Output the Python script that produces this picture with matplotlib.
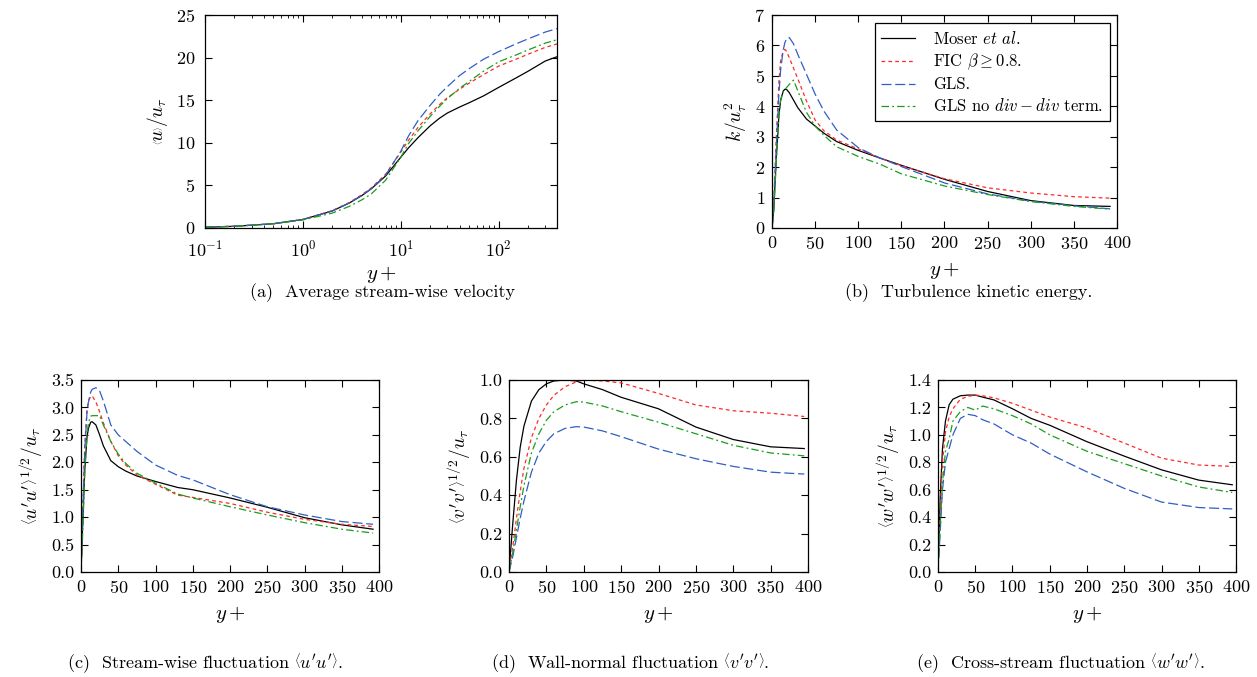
import numpy as np
import matplotlib
matplotlib.use("Agg")
import matplotlib.pyplot as plt
from matplotlib.ticker import LogLocator, NullFormatter

plt.rcParams["font.family"] = "serif"
plt.rcParams["font.serif"] = ["cmr10"]
plt.rcParams["mathtext.fontset"] = "cm"
plt.rcParams["axes.formatter.use_mathtext"] = True
plt.rcParams["font.size"] = 13

# (a) vitesse moyenne, echelle log
yp_u = [0.1, 0.2, 0.5, 1, 2, 3, 4, 5, 7, 10, 12, 15, 20, 25, 30, 40, 50, 70, 100, 150, 200, 300, 395]
u_moser = [0.1, 0.2, 0.5, 1.0, 2.0, 2.95, 3.8, 4.6, 6.1, 8.3, 9.4, 10.6, 12.0, 12.9, 13.5, 14.2, 14.7, 15.5, 16.5, 17.6, 18.4, 19.6, 20.1]
u_fic = [0.1, 0.2, 0.5, 1.0, 2.05, 3.0, 3.9, 4.7, 6.3, 8.9, 10.3, 11.8, 13.4, 14.5, 15.3, 16.3, 17.0, 18.0, 19.0, 19.8, 20.4, 21.2, 21.6]
u_gls = [0.1, 0.2, 0.5, 1.0, 2.0, 2.95, 3.85, 4.6, 6.2, 9.0, 10.8, 12.6, 14.4, 15.7, 16.6, 17.9, 18.7, 19.8, 20.7, 21.6, 22.2, 23.0, 23.4]
u_gls2 = [0.1, 0.2, 0.5, 0.95, 1.75, 2.55, 3.3, 4.0, 5.6, 8.3, 9.9, 11.4, 13.1, 14.3, 15.2, 16.4, 17.2, 18.4, 19.5, 20.3, 20.9, 21.7, 22.1]

# (b) energie cinetique turbulente
yp_k = [0, 2, 5, 8, 10, 13, 15, 17, 20, 25, 30, 40, 50, 60, 75, 100, 125, 150, 200, 250, 300, 350, 392]
k_moser = [0, 0.6, 2.3, 3.7, 4.2, 4.5, 4.56, 4.55, 4.45, 4.2, 3.95, 3.58, 3.35, 3.12, 2.84, 2.55, 2.3, 2.06, 1.6, 1.2, 0.9, 0.74, 0.71]
k_fic = [0, 0.8, 3.0, 4.8, 5.5, 5.82, 5.87, 5.8, 5.6, 5.25, 4.9, 4.17, 3.55, 3.2, 2.89, 2.6, 2.3, 2.05, 1.62, 1.32, 1.15, 1.03, 0.98]
k_gls = [0, 0.7, 2.7, 4.4, 5.2, 5.85, 6.1, 6.22, 6.26, 6.05, 5.7, 5.05, 4.4, 3.85, 3.22, 2.64, 2.3, 2.02, 1.48, 1.12, 0.88, 0.73, 0.63]
k_gls2 = [0, 0.5, 2.2, 3.7, 4.2, 4.5, 4.55, 4.62, 4.72, 4.86, 4.5, 3.8, 3.35, 3.05, 2.67, 2.35, 2.1, 1.78, 1.38, 1.1, 0.87, 0.71, 0.62]

# (c) fluctuation u'u'
yp_uu = [0, 2, 5, 8, 10, 13, 15, 20, 25, 30, 40, 50, 60, 75, 100, 130, 150, 200, 250, 300, 350, 392]
uu_moser = [0, 0.75, 1.85, 2.45, 2.62, 2.73, 2.74, 2.68, 2.5, 2.3, 2.03, 1.92, 1.84, 1.75, 1.65, 1.54, 1.5, 1.35, 1.18, 0.99, 0.86, 0.78]
uu_fic = [0, 1.0, 2.3, 2.95, 3.12, 3.2, 3.21, 3.1, 2.92, 2.72, 2.38, 2.12, 1.95, 1.77, 1.6, 1.4, 1.36, 1.25, 1.09, 0.96, 0.87, 0.83]
uu_gls = [0, 0.9, 2.2, 2.9, 3.1, 3.28, 3.33, 3.36, 3.3, 3.12, 2.68, 2.5, 2.38, 2.2, 1.95, 1.76, 1.68, 1.41, 1.19, 1.04, 0.92, 0.87]
uu_gls2 = [0, 0.6, 1.8, 2.5, 2.72, 2.84, 2.85, 2.85, 2.85, 2.68, 2.38, 2.15, 1.98, 1.8, 1.62, 1.42, 1.35, 1.19, 1.04, 0.9, 0.78, 0.71]

# (d) fluctuation v'v'
yp_vv = [0, 5, 10, 15, 20, 30, 40, 50, 60, 75, 90, 100, 125, 150, 200, 250, 300, 350, 395]
vv_moser = [0, 0.25, 0.48, 0.65, 0.76, 0.89, 0.95, 0.98, 0.995, 1.0, 0.995, 0.98, 0.95, 0.91, 0.85, 0.755, 0.69, 0.652, 0.643]
vv_fic = [0, 0.13, 0.28, 0.42, 0.54, 0.7, 0.8, 0.87, 0.92, 0.965, 0.99, 1.0, 0.995, 0.985, 0.93, 0.87, 0.84, 0.827, 0.81]
vv_gls = [0, 0.08, 0.18, 0.28, 0.37, 0.52, 0.62, 0.68, 0.72, 0.748, 0.757, 0.755, 0.735, 0.705, 0.64, 0.59, 0.55, 0.52, 0.51]
vv_gls2 = [0, 0.1, 0.22, 0.34, 0.45, 0.62, 0.72, 0.79, 0.835, 0.87, 0.887, 0.885, 0.865, 0.835, 0.78, 0.72, 0.66, 0.62, 0.605]

# (e) fluctuation w'w'
yp_ww = [0, 3, 6, 10, 15, 20, 30, 40, 50, 60, 75, 100, 125, 150, 200, 250, 300, 350, 395]
ww_moser = [0, 0.55, 0.9, 1.1, 1.22, 1.26, 1.285, 1.29, 1.29, 1.275, 1.255, 1.19, 1.12, 1.07, 0.95, 0.845, 0.745, 0.67, 0.636]
ww_fic = [0, 0.45, 0.8, 1.02, 1.13, 1.19, 1.26, 1.28, 1.29, 1.285, 1.27, 1.23, 1.18, 1.13, 1.05, 0.94, 0.83, 0.78, 0.77]
ww_gls = [0, 0.3, 0.6, 0.8, 0.9, 1.0, 1.12, 1.15, 1.14, 1.11, 1.08, 1.0, 0.94, 0.86, 0.73, 0.61, 0.51, 0.47, 0.46]
ww_gls2 = [0, 0.35, 0.65, 0.88, 0.97, 1.1, 1.17, 1.2, 1.18, 1.21, 1.19, 1.14, 1.08, 1.0, 0.88, 0.79, 0.7, 0.62, 0.58]

labels = [r"Moser $et\ al.$", r"FIC $\beta \geq 0.8$.", "GLS.", r"GLS no $div - div$ term."]
styles = [
    dict(color="black", lw=0.9, ls="-"),
    dict(color="#ff2a2a", lw=0.9, dashes=(3, 2.5)),
    dict(color="#2f5fc4", lw=0.9, dashes=(8, 3)),
    dict(color="#1a9e1a", lw=0.9, dashes=(6, 2.5, 1.5, 2.5)),
]

xt_lin = [0, 50, 100, 150, 200, 250, 300, 350, 400]

W, H = 1257, 677
fig = plt.figure(figsize=(W / 100, H / 100), dpi=100)


def box(l, t, r, b):
    return [l / W, 1 - b / H, (r - l) / W, (b - t) / H]


def style_ax(ax):
    ax.tick_params(which="both", direction="in", top=True, right=True, labelsize=13)
    ax.tick_params(which="major", length=5, width=0.8, pad=5)
    ax.tick_params(which="minor", length=2.5, width=0.6)
    for s in ax.spines.values():
        s.set_linewidth(0.9)
    ax.set_xlabel(r"$y+$", fontsize=15, labelpad=6)


def draw(ax, x, series):
    for ys, st, lab in zip(series, styles, labels):
        ax.plot(x, ys, label=lab, **st)


def yticks1(ax, ticks):
    ax.set_yticks(ticks, labels=["%.1f" % t for t in ticks])


# (a)
ax = fig.add_axes(box(205, 15, 557, 228))
draw(ax, yp_u, [u_moser, u_fic, u_gls, u_gls2])
ax.set_xscale("log")
ax.set_xlim(0.1, 395)
ax.set_ylim(0, 25)
ax.set_yticks([0, 5, 10, 15, 20, 25])
ax.xaxis.set_minor_locator(LogLocator(base=10, subs=np.arange(2, 10)))
ax.xaxis.set_minor_formatter(NullFormatter())
ax.set_ylabel(r"$\left\langle u\right\rangle / u_\tau$", fontsize=14)
style_ax(ax)
ax.tick_params(axis="x", which="major", pad=8)
ax.tick_params(axis="y", which="major", pad=7)
ax.xaxis.labelpad = 3

# (b)
ax = fig.add_axes(box(772, 15, 1117, 228))
draw(ax, yp_k, [k_moser, k_fic, k_gls, k_gls2])
ax.set_xlim(0, 400)
ax.set_ylim(0, 7)
ax.set_xticks(xt_lin)
ax.set_yticks(range(0, 8))
ax.set_ylabel(r"$k/u_\tau^2$", fontsize=14)
style_ax(ax)
leg = ax.legend(loc="upper right", bbox_to_anchor=(1110 / W, 1 - 23 / H),
                bbox_transform=fig.transFigure, borderaxespad=0, fontsize=12,
                fancybox=False, edgecolor="black", framealpha=1,
                handlelength=2.0, handletextpad=1.1, labelspacing=0.3,
                borderpad=0.4)
leg.get_frame().set_linewidth(0.9)

# (c)
ax = fig.add_axes(box(81, 380, 379, 572))
draw(ax, yp_uu, [uu_moser, uu_fic, uu_gls, uu_gls2])
ax.set_xlim(0, 400)
ax.set_ylim(0, 3.5)
ax.set_xticks(xt_lin)
yticks1(ax, [0.0, 0.5, 1.0, 1.5, 2.0, 2.5, 3.0, 3.5])
ax.set_ylabel(r"$\left\langle u^{\prime}u^{\prime}\right\rangle^{1/2}/u_\tau$", fontsize=14)
style_ax(ax)

# (d)
ax = fig.add_axes(box(509, 380, 808, 572))
draw(ax, yp_vv, [vv_moser, vv_fic, vv_gls, vv_gls2])
ax.set_xlim(0, 400)
ax.set_ylim(0, 1.0)
ax.set_xticks(xt_lin)
yticks1(ax, [0.0, 0.2, 0.4, 0.6, 0.8, 1.0])
ax.set_ylabel(r"$\left\langle v^{\prime}v^{\prime}\right\rangle^{1/2}/u_\tau$", fontsize=14)
style_ax(ax)

# (e)
ax = fig.add_axes(box(938, 380, 1236, 572))
draw(ax, yp_ww, [ww_moser, ww_fic, ww_gls, ww_gls2])
ax.set_xlim(0, 400)
ax.set_ylim(0, 1.4)
ax.set_xticks(xt_lin)
yticks1(ax, [0.0, 0.2, 0.4, 0.6, 0.8, 1.0, 1.2, 1.4])
ax.set_ylabel(r"$\left\langle w^{\prime}w^{\prime}\right\rangle^{1/2}/u_\tau$", fontsize=14)
style_ax(ax)

# legendes des sous-figures
caps = [
    (382, 293, "(a)  Average stream-wise velocity"),
    (969, 293, "(b)  Turbulence kinetic energy."),
    (205, 663, r"(c)  Stream-wise fluctuation $\left\langle u^{\prime}u^{\prime}\right\rangle$."),
    (630, 663, r"(d)  Wall-normal fluctuation $\left\langle v^{\prime}v^{\prime}\right\rangle$."),
    (1060, 663, r"(e)  Cross-stream fluctuation $\left\langle w^{\prime}w^{\prime}\right\rangle$."),
]
for x, y, t in caps:
    fig.text(x / W, 1 - y / H, t, ha="center", va="center", fontsize=13)

fig.savefig("out.png", dpi=100)
